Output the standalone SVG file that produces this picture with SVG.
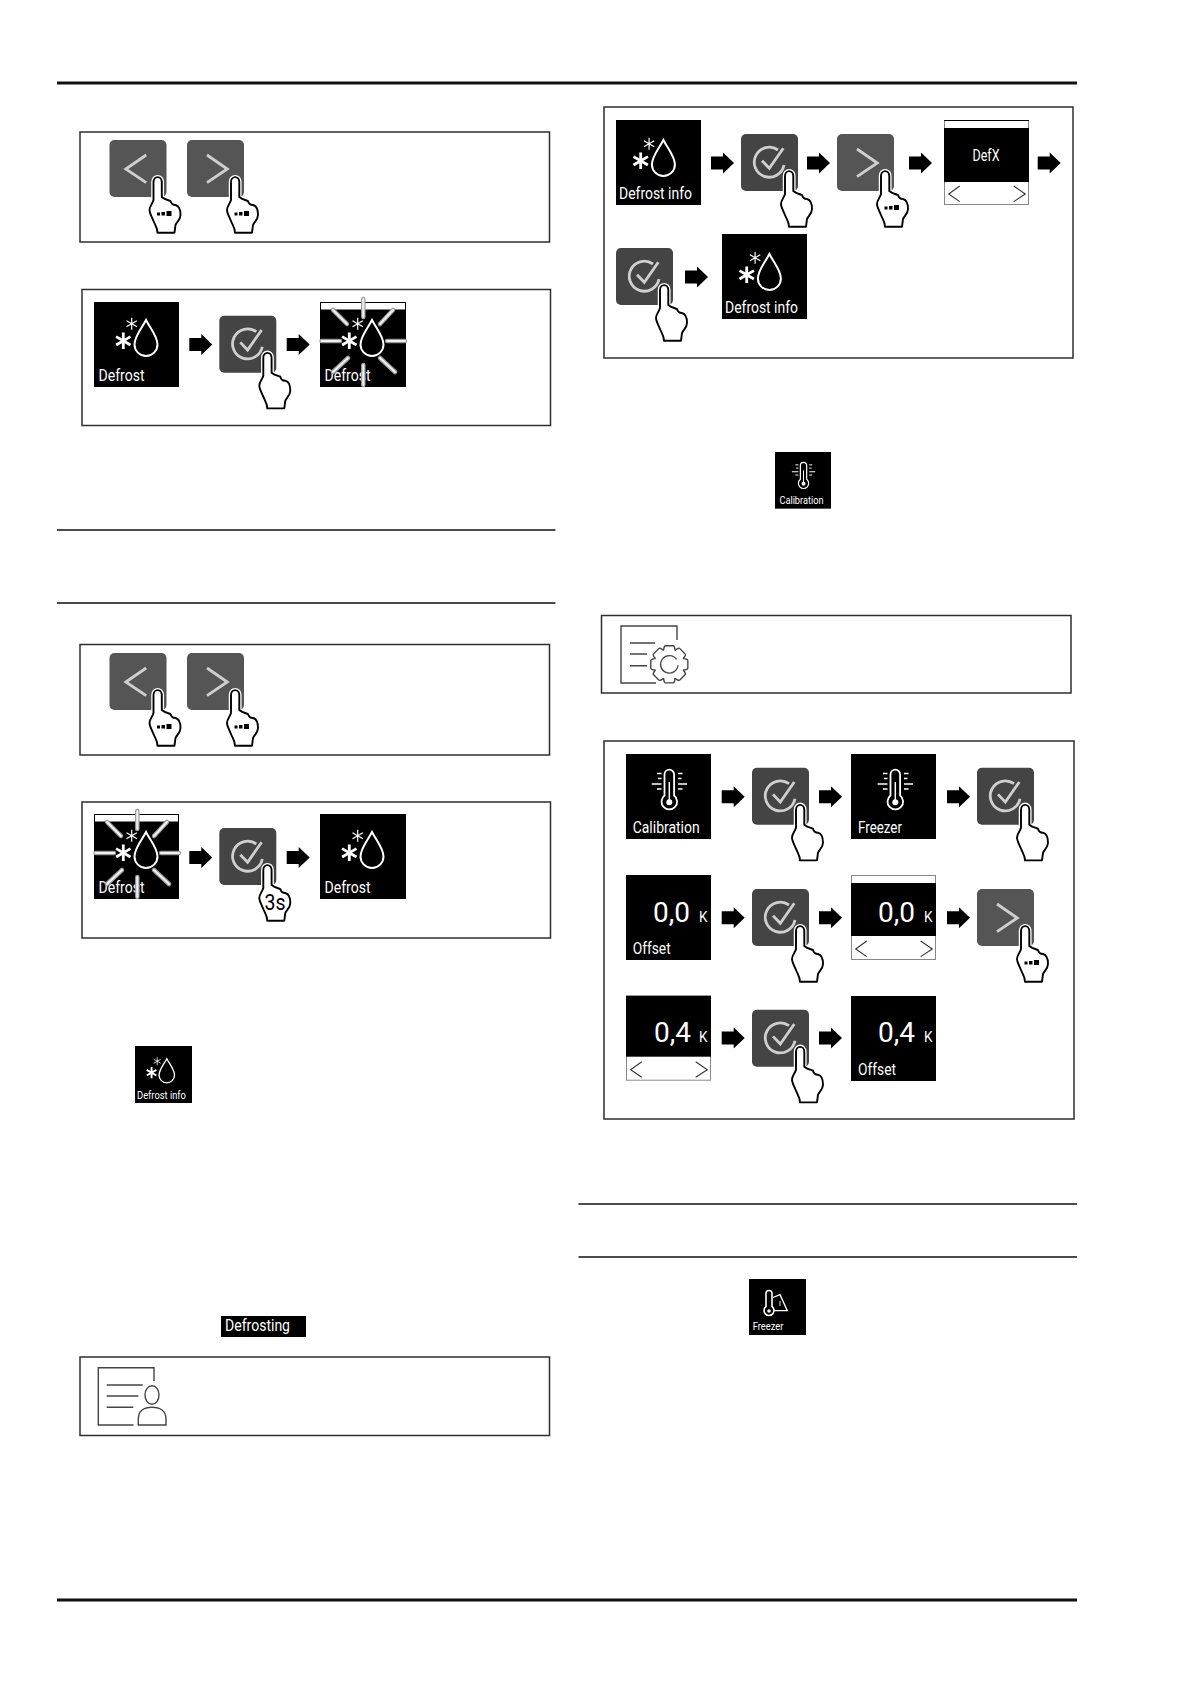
<svg xmlns="http://www.w3.org/2000/svg" xmlns:xlink="http://www.w3.org/1999/xlink" width="1191" height="1684" viewBox="0 0 1191 1684">
<style>
.rule{stroke:#111;fill:none}
.box{fill:#fff;stroke:#2e2e2e;stroke-width:1.5}
.t{font-family:Roboto,"Liberation Sans",sans-serif;fill:#fff}
.lab{font-size:16px}
.val{font-size:27px}
.k{font-size:15px}
.ic{stroke:#444;stroke-width:1.4;fill:none}
.ray1{stroke:#999;stroke-width:4.5;stroke-linecap:round;fill:none}
.ray2{stroke:#f0f0f0;stroke-width:2.2;stroke-linecap:round;fill:none}
.w{stroke:#fff;fill:none}
.chev{stroke:#cfcfcf;stroke-width:2.8;fill:none}
.tchev{stroke:#333;stroke-width:1.1;fill:none}
</style>
<defs>
<path id="arrow" d="M0-6.500H12V-10.500L23 0 12 10.500V6.500H0Z" fill="#000"/>
<g id="hand">
<path d="M44 60V42C44 35.500 52.300 35.500 52.300 42V57" fill="none" stroke="#fff" stroke-width="4.500"/>
<path d="M44 60V42C44 35.500 52.300 35.500 52.300 42V57C56 60 59 60 61 61Q62 65 66 65C70 66 71 70 71 75C71 80 67 82 66 85L65 92.700H48C48 88 46 86 44 81C42 76 40 73 40 70C40 66 43 64 44 60Z" fill="#fff" stroke="#000" stroke-width="1.900" stroke-linejoin="round"/>
</g>
<g id="dots" fill="#000"><rect x="47.500" y="72.500" width="3" height="3"/><rect x="52" y="72" width="3.500" height="3.500"/><rect x="57" y="71" width="5" height="5"/></g>
<rect id="bgL" width="57" height="57" rx="5" fill="#555"/>
<rect id="bgC" width="57" height="57" rx="5" fill="#444"/>
<g id="press-left"><use xlink:href="#bgL"/><path class="chev" d="M36.700 15L16.300 29 36.700 42.700"/><use xlink:href="#hand"/><use xlink:href="#dots"/></g>
<g id="press-right"><use xlink:href="#bgL"/><path class="chev" d="M20 15L40.300 29 20 42.700"/><use xlink:href="#hand"/><use xlink:href="#dots"/></g>
<g id="check"><use xlink:href="#bgC"/><path class="chev" d="M37 16A15 15 0 1 0 43 31"/><path class="chev" d="M21 26.700L28.300 34.300 42.300 14.300"/></g>
<g id="press-check"><use xlink:href="#check"/><use xlink:href="#hand"/></g>
<g id="defrost-icon">
<path d="M29.300 30.500V47.100M22.100 34.600L36.500 43M36.500 34.600L22.100 43" stroke="#fff" stroke-width="2.800" fill="none"/>
<path d="M37.700 15.700V27.700M32.500 18.700L42.900 24.700M42.900 18.700L32.500 24.700" stroke="#fff" stroke-width="1.200" fill="none"/>
<path d="M52 18C48 26 40.500 34 40.500 42.500A11.500 11.500 0 0 0 63.500 42.500C63.500 34 56 26 52 18Z" stroke="#fff" stroke-width="2" fill="none"/>
</g>
<g id="rays">
<path class="ray1" d="M43.300 -3V15M13 8L27 22M73 8L60 22M1.500 39H20M67 39H85M28 56L13 70M60 56L75 70M43.300 63V83"/>
<path class="ray2" d="M43.300 -3V15M13 8L27 22M73 8L60 22M1.500 39H20M67 39H85M28 56L13 70M60 56L75 70M43.300 63V83"/>
</g>
<g id="therm">
<path class="w" stroke-width="1.800" d="M38.500 41.500V20.500A4.800 4.800 0 0 1 48.100 20.500V41.500A7.800 7.800 0 1 1 38.500 41.500Z"/>
<circle cx="43.300" cy="48.300" r="3" fill="#fff"/>
<path class="w" stroke-width="1.500" d="M43.300 28V48"/>
<path class="w" stroke-width="1.500" d="M31 19.500H35.500M32 24.500H35.500M25.700 30H35.500M31 35H35.500M52 19.500H56.500M52 24.500H55.500M52 30H61M52 35H56.500"/>
</g>
<g id="chevs"><path class="tchev" d="M15.700 0L4.700 8 15.700 15.600M69.700 0L81.300 8 69.700 15.600"/></g>
<path id="cog" d="M-5.900-14.300Q-5.500-19.500-3.700-19.100L3.700-19.100Q5.500-19.500 5.900-14.300" class="ic"/>
</defs>

<rect width="1191" height="1684" fill="#fff"/>

<g id="page-rules">
<path class="rule" stroke-width="3" d="M57 83H1077M57 1600H1077"/>
<path class="rule" stroke-width="1.600" d="M57 530H555.500M57 603H555.500M578.500 1204H1077M578.500 1257H1077"/>
</g>

<g id="frames">
<rect class="box" x="80" y="132" width="469.500" height="110"/>
<rect class="box" x="82" y="289.500" width="468.500" height="136"/>
<rect class="box" x="80" y="644.500" width="469.500" height="110.500"/>
<rect class="box" x="82" y="802" width="468.500" height="136"/>
<rect class="box" x="80" y="1357" width="469.500" height="78.500"/>
<rect class="box" x="604" y="107" width="469" height="251"/>
<rect class="box" x="601.500" y="615.500" width="469.500" height="77.500"/>
<rect class="box" x="604" y="741" width="470" height="378"/>
</g>

<g id="connectors">
<use xlink:href="#arrow" x="189.300" y="344.500"/>
<use xlink:href="#arrow" x="286.700" y="344.500"/>
<use xlink:href="#arrow" x="189.300" y="857.500"/>
<use xlink:href="#arrow" x="286.700" y="857.500"/>
<use xlink:href="#arrow" x="711" y="163"/>
<use xlink:href="#arrow" x="807" y="163"/>
<use xlink:href="#arrow" x="909" y="163"/>
<use xlink:href="#arrow" x="1037.700" y="163"/>
<use xlink:href="#arrow" x="685" y="277"/>
<use xlink:href="#arrow" x="721.700" y="796.700"/>
<use xlink:href="#arrow" x="819" y="796.700"/>
<use xlink:href="#arrow" x="947" y="796.700"/>
<use xlink:href="#arrow" x="721.700" y="917.700"/>
<use xlink:href="#arrow" x="819" y="917.700"/>
<use xlink:href="#arrow" x="947" y="917.700"/>
<use xlink:href="#arrow" x="721.700" y="1038"/>
<use xlink:href="#arrow" x="819" y="1038"/>
</g>

<g id="btn-a1"><use xlink:href="#press-left" x="109.500" y="140"/></g>
<g id="btn-a2"><use xlink:href="#press-right" x="187" y="140"/></g>

<g id="tile-defrost-1" transform="translate(94 302)"><rect width="85" height="85"/><use xlink:href="#defrost-icon"/><text class="t lab" x="4.500" y="79" textLength="46" lengthAdjust="spacingAndGlyphs">Defrost</text></g>
<g id="btn-b1"><use xlink:href="#press-check" x="219.300" y="315.700"/></g>
<g id="tile-defrost-flash-1" transform="translate(320 302)"><rect width="86" height="85"/><rect x=".5" y=".5" width="85" height="7.500" fill="#fff" stroke="#000"/><use xlink:href="#defrost-icon"/><text class="t lab" x="4.500" y="79" textLength="46" lengthAdjust="spacingAndGlyphs">Defrost</text><use xlink:href="#rays"/></g>

<g id="btn-c1"><use xlink:href="#press-left" x="109.500" y="653"/></g>
<g id="btn-c2"><use xlink:href="#press-right" x="187" y="653"/></g>

<g id="tile-defrost-flash-2" transform="translate(94 814)"><rect width="85" height="85"/><rect x=".5" y=".5" width="84" height="7.500" fill="#fff" stroke="#000"/><use xlink:href="#defrost-icon"/><text class="t lab" x="4.500" y="79" textLength="46" lengthAdjust="spacingAndGlyphs">Defrost</text><use xlink:href="#rays"/></g>
<g id="btn-d1"><use xlink:href="#press-check" x="219.300" y="828"/><text x="264.500" y="910" font-family="Roboto,'Liberation Sans',sans-serif" font-size="22" fill="#000" textLength="21" lengthAdjust="spacingAndGlyphs">3s</text></g>
<g id="tile-defrost-2" transform="translate(320 814)"><rect width="86" height="85"/><use xlink:href="#defrost-icon"/><text class="t lab" x="4.500" y="79" textLength="46" lengthAdjust="spacingAndGlyphs">Defrost</text></g>

<g id="tile-defrost-info-small" transform="translate(135 1046) scale(.6706)"><rect width="85" height="85"/><use xlink:href="#defrost-icon" x="-4.600" y="1"/><text class="t lab" x="3" y="79" textLength="73" lengthAdjust="spacingAndGlyphs">Defrost info</text></g>
<g id="label-defrosting"><rect x="221" y="1316" width="85" height="21"/><text class="t lab" x="225" y="1330.700" textLength="65" lengthAdjust="spacingAndGlyphs">Defrosting</text></g>

<g id="icon-person">
<path class="ic" d="M154 1381V1367.700H98.300V1425H133.500M106.700 1385H142.700M106.700 1396H138.300M106.700 1407.300H133.300"/>
<ellipse class="ic" cx="152" cy="1395" rx="7" ry="9.300"/>
<path class="ic" d="M138.300 1425V1419C138.300 1411 144 1407.300 152 1407.300S166 1411 166 1419V1425Z"/>
</g>

<g id="tile-defrost-info-1" transform="translate(616 120)"><rect width="85" height="85"/><use xlink:href="#defrost-icon" x="-4.600" y="2"/><text class="t lab" x="3" y="79" textLength="73" lengthAdjust="spacingAndGlyphs">Defrost info</text></g>
<g id="btn-e1"><use xlink:href="#press-check" x="741" y="134"/></g>
<g id="btn-e2"><use xlink:href="#press-right" x="837" y="134"/></g>
<g id="tile-defx" transform="translate(944 120)"><rect x=".5" y=".5" width="84" height="84" fill="#fff" stroke="#888"/><rect x="0" y="0" width="85" height="1" fill="#000"/><rect y="8" width="85" height="54"/><text class="t lab" x="42" y="40.500" text-anchor="middle" textLength="27" lengthAdjust="spacingAndGlyphs">DefX</text><use xlink:href="#chevs" y="66"/></g>
<g id="btn-e3"><use xlink:href="#press-check" x="616" y="248"/></g>
<g id="tile-defrost-info-2" transform="translate(722 234)"><rect width="85" height="85"/><use xlink:href="#defrost-icon" x="-4.600" y="2"/><text class="t lab" x="3" y="79" textLength="73" lengthAdjust="spacingAndGlyphs">Defrost info</text></g>

<g id="tile-calibration-small" transform="translate(775 452) scale(.6588)"><rect width="85" height="86"/><use xlink:href="#therm"/><text class="t lab" x="6.700" y="78.300" textLength="67" lengthAdjust="spacingAndGlyphs">Calibration</text></g>

<g id="icon-gear">
<path class="ic" d="M677 640V626H621V683H656M630 643H655M630 654H647M630 665.700H647"/>
<g transform="translate(669.300 664.300) scale(.97)">
<use xlink:href="#cog"/><use xlink:href="#cog" transform="rotate(45)"/><use xlink:href="#cog" transform="rotate(90)"/><use xlink:href="#cog" transform="rotate(135)"/><use xlink:href="#cog" transform="rotate(180)"/><use xlink:href="#cog" transform="rotate(225)"/><use xlink:href="#cog" transform="rotate(270)"/><use xlink:href="#cog" transform="rotate(315)"/>
<path class="ic" d="M7.500-5A9 9 0 1 0 9 1"/>
</g>
</g>

<g id="tile-calibration" transform="translate(626 754)"><rect width="85" height="85"/><use xlink:href="#therm"/><text class="t lab" x="6.700" y="79" textLength="67" lengthAdjust="spacingAndGlyphs">Calibration</text></g>
<g id="btn-f1"><use xlink:href="#press-check" x="752" y="767.700"/></g>
<g id="tile-freezer" transform="translate(851 754)"><rect width="85" height="85"/><use xlink:href="#therm" x="1"/><text class="t lab" x="7" y="79" textLength="44" lengthAdjust="spacingAndGlyphs">Freezer</text></g>
<g id="btn-f2"><use xlink:href="#press-check" x="977" y="767.700"/></g>

<g id="tile-offset-1" transform="translate(626 875)"><rect width="85" height="85"/><text class="t val" x="27" y="46.500" textLength="37" lengthAdjust="spacingAndGlyphs">0,0</text><text class="t k" x="73" y="46.500" textLength="8.500" lengthAdjust="spacingAndGlyphs">K</text><text class="t lab" x="6.700" y="79" textLength="38" lengthAdjust="spacingAndGlyphs">Offset</text></g>
<g id="btn-g1"><use xlink:href="#press-check" x="752" y="889"/></g>
<g id="tile-edit-1" transform="translate(851 875)"><rect x=".5" y=".5" width="84" height="84" fill="#fff" stroke="#888"/><rect y="8" width="85" height="53"/><text class="t val" x="27" y="46.500" textLength="37" lengthAdjust="spacingAndGlyphs">0,0</text><text class="t k" x="73" y="46.500" textLength="8.500" lengthAdjust="spacingAndGlyphs">K</text><use xlink:href="#chevs" y="66"/></g>
<g id="btn-g2"><use xlink:href="#press-right" x="977" y="889"/></g>

<g id="tile-edit-2" transform="translate(626 995.700)"><rect x=".5" y=".5" width="84" height="84" fill="#fff" stroke="#888"/><rect width="85" height="61"/><text class="t val" x="28" y="46" textLength="37" lengthAdjust="spacingAndGlyphs">0,4</text><text class="t k" x="73" y="46" textLength="8.500" lengthAdjust="spacingAndGlyphs">K</text><use xlink:href="#chevs" y="66"/></g>
<g id="btn-h1"><use xlink:href="#press-check" x="752" y="1009.700"/></g>
<g id="tile-offset-2" transform="translate(851 996)"><rect width="85" height="85"/><text class="t val" x="27" y="46" textLength="37" lengthAdjust="spacingAndGlyphs">0,4</text><text class="t k" x="73" y="46" textLength="8.500" lengthAdjust="spacingAndGlyphs">K</text><text class="t lab" x="7" y="79" textLength="38" lengthAdjust="spacingAndGlyphs">Offset</text></g>

<g id="tile-freezer-small" transform="translate(749 1279)"><rect width="57" height="56"/>
<path class="w" stroke-width="1.600" d="M17 27.500V14.500A3 3 0 0 1 23 14.500V27.500A5 5 0 1 1 17 27.500Z"/><circle cx="20" cy="32" r="1.800" fill="#fff"/>
<path class="w" stroke-width="1.300" d="M24 18.500L31 15.700 38.300 31.700H25"/><path d="M31 22V27" stroke="#aaa" stroke-width="1.300"/>
<text class="t" font-size="10.500" x="3.700" y="51" textLength="30.700" lengthAdjust="spacingAndGlyphs">Freezer</text></g>
</svg>
